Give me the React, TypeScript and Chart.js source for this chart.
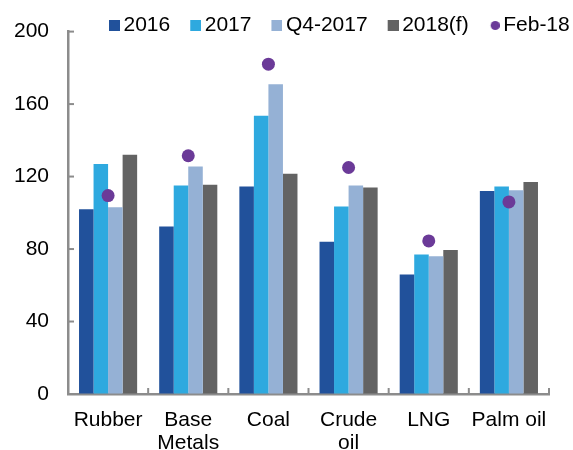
import React, { useEffect, useRef } from "react";
import { Chart, registerables } from "chart.js";

Chart.register(...registerables);

const categories: string[][] = [["Rubber"], ["Base", "Metals"], ["Coal"], ["Crude", "oil"], ["LNG"], ["Palm oil"]];
const seriesNames = ["2016", "2017", "Q4-2017", "2018(f)", "Feb-18"];
const values2016 = [102, 92.5, 114.5, 84, 66, 112];
const values2017 = [127, 115, 153.5, 103.5, 77, 114.5];
const valuesQ42017 = [103, 125.5, 171, 115, 76, 112.5];
const values2018f = [132, 115.5, 121.5, 114, 79.5, 117];
const valuesFeb18 = [109.5, 131.5, 182, 125, 84.5, 106];
const yTickValues = [0, 40, 80, 120, 160, 200];

const COLORS = ["#21519B", "#2EA9DF", "#95B1D5", "#636363", "#6B3A98"];
const AXIS = "#8C8C8C";
const FONT = "'Liberation Sans', Arial, sans-serif";

function makeIcon(color: string, round: boolean): HTMLCanvasElement {
  const c = document.createElement("canvas");
  c.width = 26;
  c.height = 11;
  const g = c.getContext("2d")!;
  g.fillStyle = color;
  if (round) {
    g.beginPath();
    g.arc(21.5, 5.5, 4.6, 0, Math.PI * 2);
    g.fill();
  } else {
    g.fillRect(15, 0, 11, 11);
  }
  return c;
}

const axisTicks = {
  id: "axisTicks",
  afterDatasetsDraw(chart: any) {
    const { ctx, chartArea, scales } = chart;
    const y = scales.y;
    const x = scales.x;
    ctx.save();
    ctx.strokeStyle = AXIS;
    ctx.lineWidth = 2;
    y.ticks.forEach((t: any) => {
      const py = y.getPixelForValue(t.value);
      ctx.beginPath();
      ctx.moveTo(chartArea.left, py);
      ctx.lineTo(chartArea.left + 6, py);
      ctx.stroke();
    });
    const n = x.ticks.length;
    for (let i = 0; i < n; i++) {
      const px = i < n - 1 ? (x.getPixelForTick(i) + x.getPixelForTick(i + 1)) / 2 : chartArea.right;
      ctx.beginPath();
      ctx.moveTo(px, chartArea.bottom);
      ctx.lineTo(px, chartArea.bottom - 6);
      ctx.stroke();
    }
    ctx.restore();
  },
};

const LEGEND_PAD = 12;
const legendPlace = {
  id: "legendPlace",
  afterLayout(chart: any) {
    const lg = chart.legend;
    if (!lg) return;
    lg.left = 101 - LEGEND_PAD;
    lg.right = chart.width + 300;
    lg.top = 3;
    lg.bottom = 60;
  },
};

export default function App() {
  const ref = useRef<HTMLCanvasElement | null>(null);
  useEffect(() => {
    document.body.style.margin = "0";
    const icons = COLORS.map((c, i) => makeIcon(c, i === 4));
    const barSeries = [values2016, values2017, valuesQ42017, values2018f];
    const datasets: any[] = barSeries.map((data, i) => ({
      type: "bar",
      label: seriesNames[i],
      data,
      backgroundColor: COLORS[i],
      borderWidth: 0,
      categoryPercentage: 0.725,
      barPercentage: 1,
      order: 1,
    }));
    datasets.push({
      type: "line",
      label: seriesNames[4],
      data: valuesFeb18,
      showLine: false,
      pointRadius: 6.5,
      pointHoverRadius: 6.5,
      pointBackgroundColor: COLORS[4],
      pointBorderWidth: 0,
      borderColor: COLORS[4],
      backgroundColor: COLORS[4],
      order: 0,
    });
    const chart = new Chart(ref.current!, {
      type: "bar",
      data: { labels: categories as any, datasets },
      options: {
        responsive: false,
        animation: false,
        layout: { padding: { left: 0, right: 24, top: 0, bottom: 0 } },
        plugins: {
          tooltip: { enabled: false },
          legend: {
            position: "top",
            align: "start",
            maxHeight: 30,
            labels: {
              usePointStyle: true,
              pointStyleWidth: 12,
              padding: LEGEND_PAD,
              color: "#000",
              font: { family: FONT, size: 21 },
              generateLabels: (c: any) => {
                const items = Chart.defaults.plugins.legend.labels.generateLabels(c);
                items.forEach((it: any) => {
                  it.pointStyle = icons[it.datasetIndex];
                });
                return items.sort((a: any, b: any) => a.datasetIndex - b.datasetIndex);
              },
            },
          } as any,
        },
        scales: {
          x: {
            grid: { display: true, drawOnChartArea: false, drawTicks: false },
            border: { display: true, color: AXIS, width: 2.5 },
            ticks: { color: "#000", padding: 14, font: { family: FONT, size: 21, lineHeight: 1.12 }, maxRotation: 0, autoSkip: false },
            afterFit: (s: any) => {
              s.height = 56;
            },
          },
          y: {
            min: 0,
            max: 200,
            afterBuildTicks: (s: any) => {
              s.ticks = yTickValues.map((v) => ({ value: v }));
            },
            grid: { display: true, drawOnChartArea: false, drawTicks: false },
            border: { display: true, color: AXIS, width: 2.5 },
            ticks: { color: "#000", padding: 19, font: { family: FONT, size: 21 } },
            afterFit: (s: any) => {
              s.width = 68;
            },
          },
        },
      },
      plugins: [axisTicks, legendPlace],
    });
    return () => chart.destroy();
  }, []);
  return <canvas ref={ref} width={573} height={450} style={{ display: "block" }} />;
}
